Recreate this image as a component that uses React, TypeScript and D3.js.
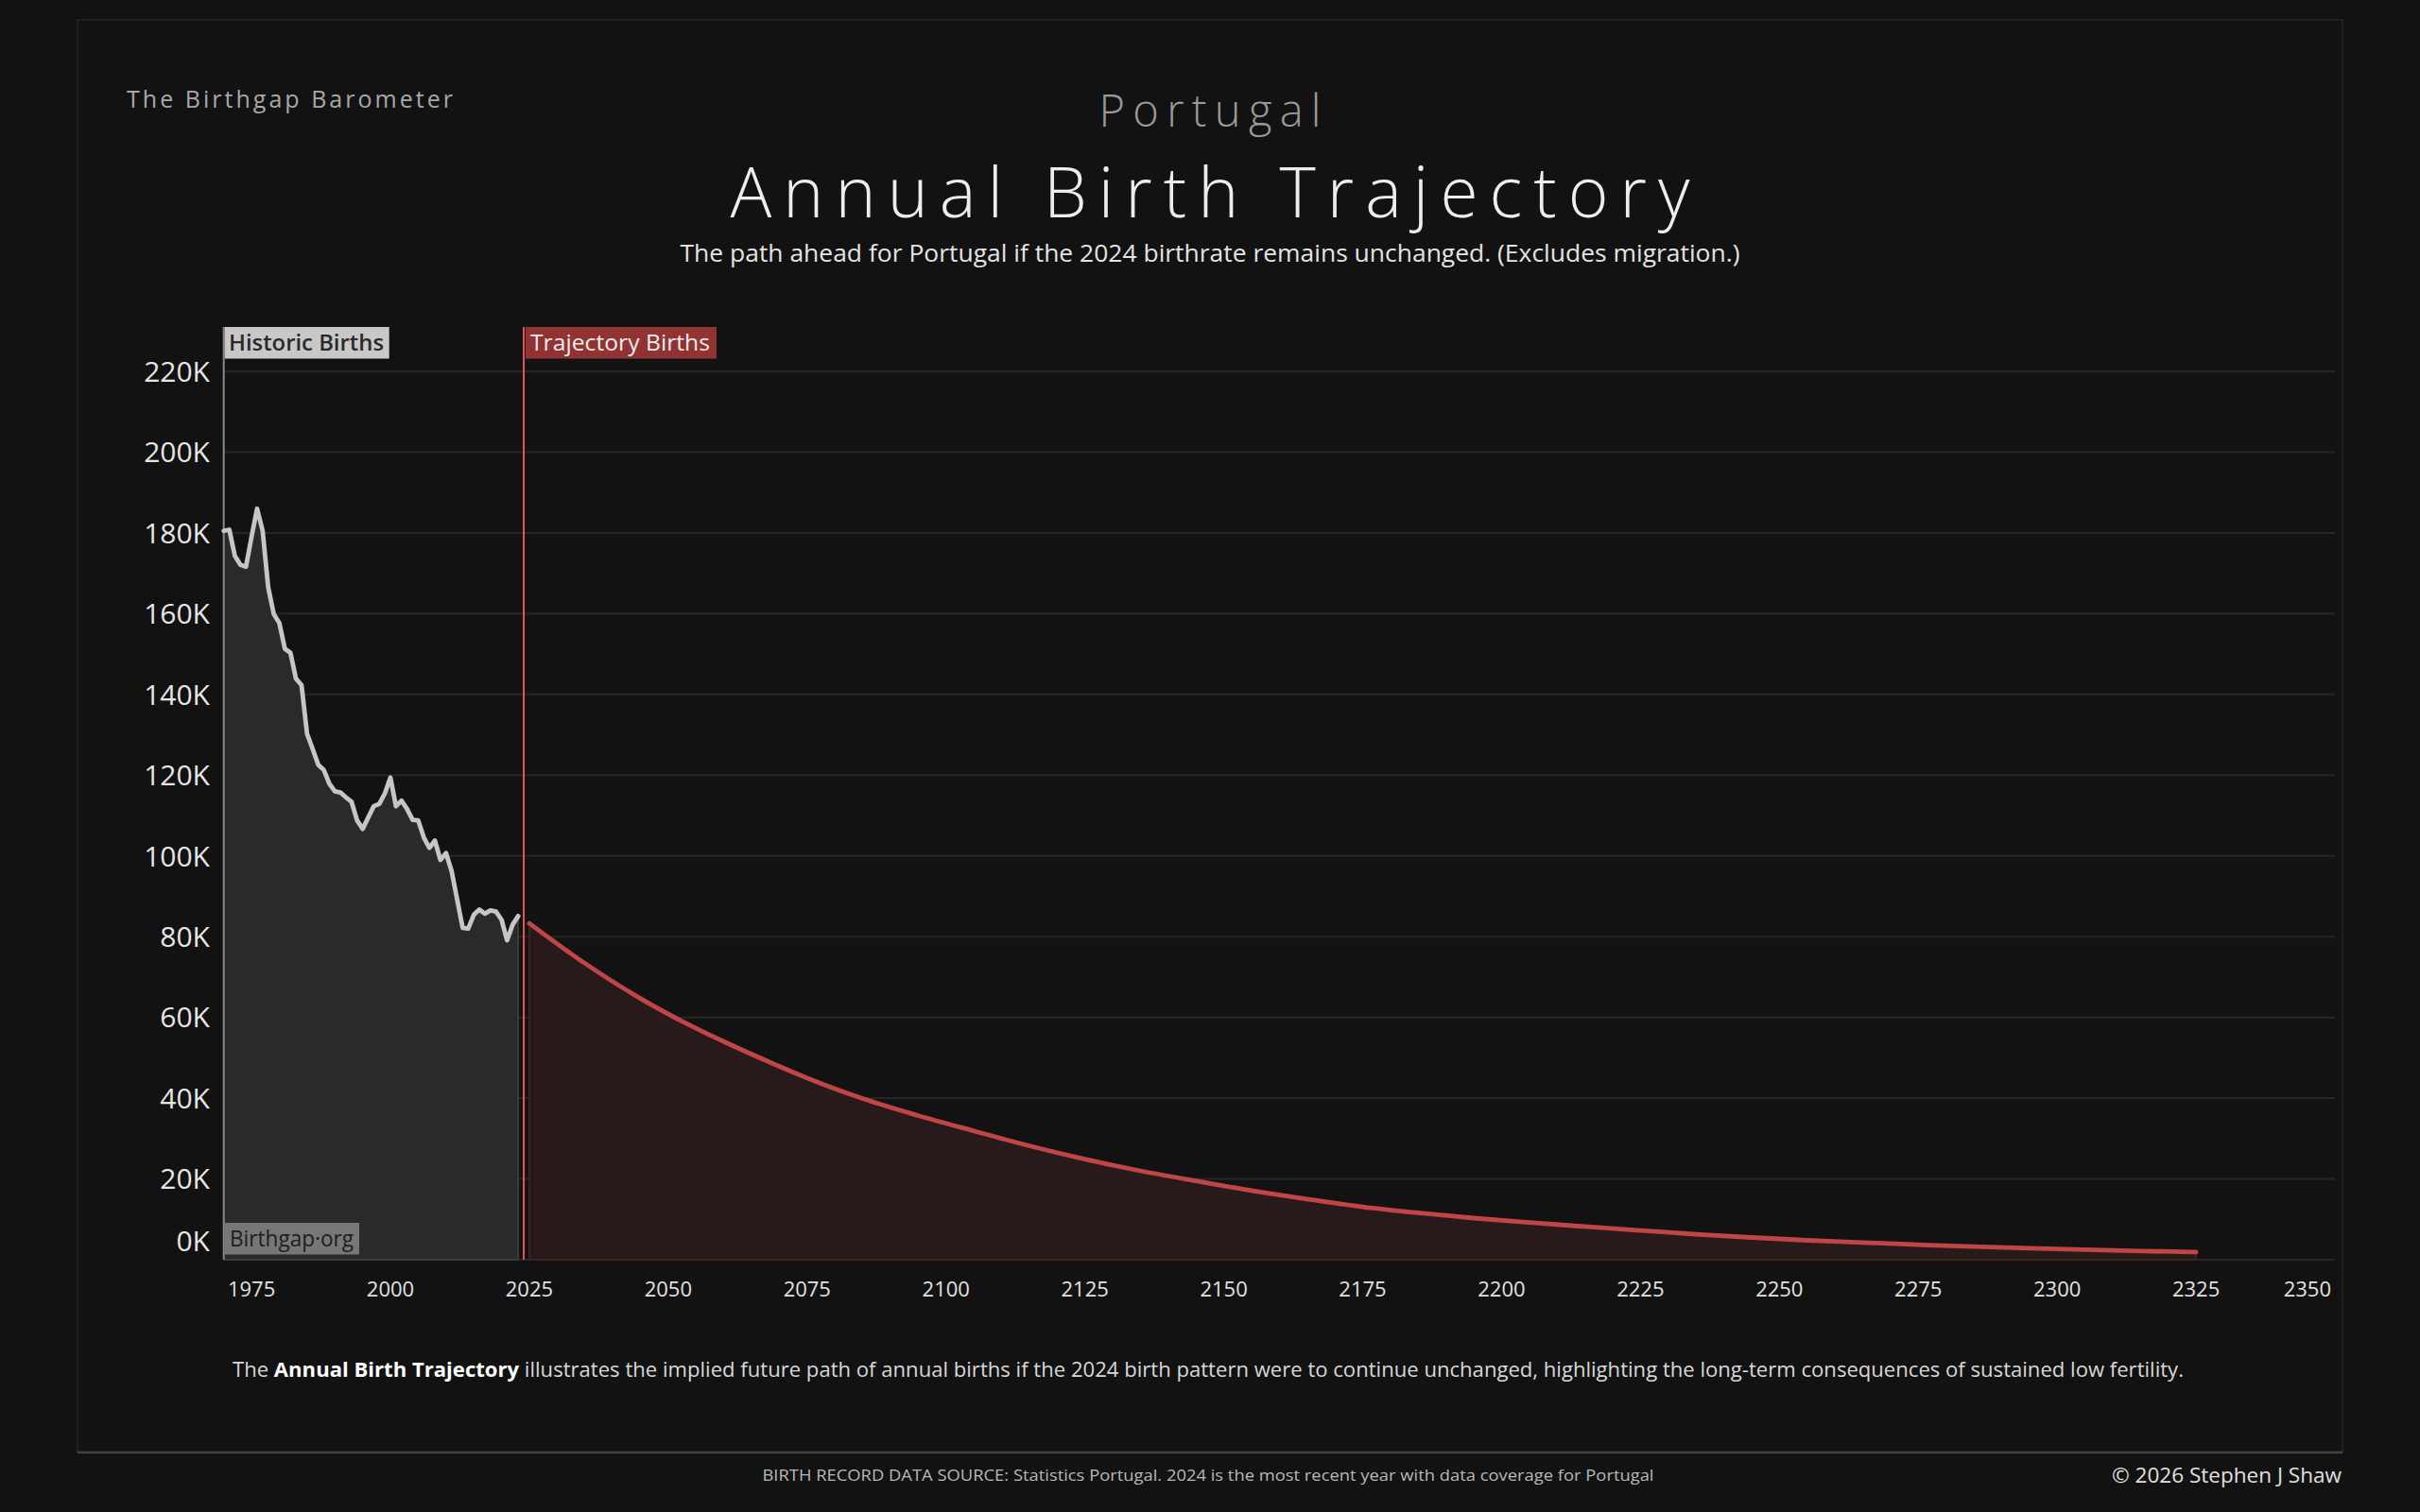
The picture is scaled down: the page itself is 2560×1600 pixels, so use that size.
import React from "react";
import * as d3 from "d3";

// ---------- DATA ----------
const historicYears = [
  1970, 1971, 1972, 1973, 1974, 1975, 1976, 1977, 1978, 1979,
  1980, 1981, 1982, 1983, 1984, 1985, 1986, 1987, 1988, 1989,
  1990, 1991, 1992, 1993, 1994, 1995, 1996, 1997, 1998, 1999,
  2000, 2001, 2002, 2003, 2004, 2005, 2006, 2007, 2008, 2009,
  2010, 2011, 2012, 2013, 2014, 2015, 2016, 2017, 2018, 2019,
  2020, 2021, 2022, 2023,
];
const historicBirths = [
  180500, 180800, 174300, 172100, 171600, 179000, 186000, 180500, 166500, 159900,
  157700, 151300, 150300, 143900, 142300, 130200, 126500, 122600, 121300, 117900,
  116000, 115700, 114500, 113400, 108800, 106700, 109500, 112300, 112900, 115500,
  119400, 112300, 113700, 111600, 108900, 108800, 104600, 102000, 103800, 99000,
  100700, 96300, 89300, 82200, 82000, 85400, 86700, 85700, 86500, 86200,
  84200, 79100, 83000, 85100,
];
const trajectoryYears = [
  2025, 2035, 2045, 2055, 2065, 2075, 2085, 2095, 2105, 2115,
  2125, 2135, 2145, 2155, 2165, 2175, 2185, 2195, 2205, 2215,
  2225, 2235, 2245, 2255, 2265, 2275, 2285, 2295, 2305, 2315, 2325,
];
const trajectoryBirths = [
  83300, 73400, 64700, 57300, 50900, 45000, 39900, 35700, 31900, 28200,
  24900, 22000, 19500, 17100, 15000, 13100, 11600, 10300, 9200, 8200,
  7250, 6300, 5500, 4800, 4250, 3700, 3250, 2850, 2470, 2150, 1900,
];
const yTicks = [0, 20000, 40000, 60000, 80000, 100000, 120000, 140000, 160000, 180000, 200000, 220000];
const xTicks = [1975, 2000, 2025, 2050, 2075, 2100, 2125, 2150, 2175, 2200, 2225, 2250, 2275, 2300, 2325, 2350];
const dividerYear = 2024;

const FONT = "'Open Sans', 'Noto Sans', 'DejaVu Sans', sans-serif";

export default function App() {
  const W = 2560;
  const H = 1600;
  const x = d3.scaleLinear().domain([1970, 2350]).range([236.7, 2470]);
  const y = d3.scaleLinear().domain([0, 220000]).range([1333, 393]);
  const plotTop = 346;

  const hist = historicYears.map((yr, i) => ({ yr, v: historicBirths[i] }));
  const traj = trajectoryYears.map((yr, i) => ({ yr, v: trajectoryBirths[i] }));

  const histLine = d3.line<any>().x((d) => x(d.yr)).y((d) => y(d.v)).curve(d3.curveLinear);
  const histArea = d3.area<any>().x((d) => x(d.yr)).y0(y(0)).y1((d) => y(d.v)).curve(d3.curveLinear);
  const trajLine = d3.line<any>().x((d) => x(d.yr)).y((d) => y(d.v)).curve(d3.curveMonotoneX);
  const trajArea = d3.area<any>().x((d) => x(d.yr)).y0(y(0)).y1((d) => y(d.v)).curve(d3.curveMonotoneX);

  const hLast = hist[hist.length - 1];
  const tFirst = traj[0];
  const tLast = traj[traj.length - 1];

  return (
    <svg
      width={W}
      height={H}
      style={{ position: "absolute", left: 0, top: 0, display: "block", background: "#121212" }}
      fontFamily={FONT}
    >
      <rect x={0} y={0} width={W} height={H} fill="#121212" />
      {/* frame */}
      <rect x={82} y={21} width={2396} height={1516} fill="none" stroke="#272727" strokeWidth={1.5} />
      <line x1={82} x2={2478} y1={1537} y2={1537} stroke="#444" strokeWidth={2.5} />

      {/* header */}
      <text x={134} y={114} fontSize={25} fill="#a8a8a8" textLength={345} lengthAdjust="spacing">
        The Birthgap Barometer
      </text>
      <text x={1280} y={134} fontSize={47} fill="#9a9a9a" textAnchor="middle" fontWeight={300} textLength={235} lengthAdjust="spacing">
        Portugal
      </text>
      <text x={1280} y={230} fontSize={73} fill="#ededed" textAnchor="middle" fontWeight={300} textLength={1015} lengthAdjust="spacing">
        Annual Birth Trajectory
      </text>
      <text x={1280} y={277} fontSize={25} fill="#e4e4e4" textAnchor="middle" textLength={1121} lengthAdjust="spacingAndGlyphs">
        The path ahead for Portugal if the 2024 birthrate remains unchanged.  (Excludes migration.)
      </text>

      {/* gridlines */}
      {yTicks.map((t) => (
        <line key={"g" + t} x1={x(1970)} x2={2470} y1={y(t)} y2={y(t)} stroke="#262626" strokeWidth={2} />
      ))}

      {/* historic area */}
      <path d={histArea(hist) || ""} fill="#2a2a2a" />
      <path
        d={`M${x(hist[0].yr)},${y(0)}H${x(hLast.yr)}V${y(hLast.v)}`}
        fill="none"
        stroke="#444"
        strokeWidth={1.5}
      />
      {/* trajectory area */}
      <path d={trajArea(traj) || ""} fill="#281a1a" />
      <path
        d={`M${x(tFirst.yr)},${y(tFirst.v)}V${y(0)}H${x(tLast.yr)}V${y(tLast.v)}`}
        fill="none"
        stroke="#432626"
        strokeWidth={1.5}
      />

      {/* vertical markers */}
      <line x1={x(1970)} x2={x(1970)} y1={plotTop} y2={y(0)} stroke="#8a8a8a" strokeWidth={2} />
      <line x1={x(dividerYear)} x2={x(dividerYear)} y1={plotTop} y2={y(0)} stroke="#e0585a" strokeWidth={2} />

      {/* lines */}
      <path d={histLine(hist) || ""} fill="none" stroke="#c6c6c6" strokeWidth={4.8} strokeLinejoin="round" strokeLinecap="round" />
      <path d={trajLine(traj) || ""} fill="none" stroke="#bf4547" strokeWidth={4.8} strokeLinejoin="round" strokeLinecap="round" />

      {/* labels in plot */}
      <rect x={237.7} y={346} width={174} height={33.5} fill="#c8c8c8" />
      <text x={242} y={371} fontSize={23} fill="#2a2a2a" textLength={164} lengthAdjust="spacingAndGlyphs" fontWeight={600}>
        Historic Births
      </text>
      <rect x={556} y={346} width={202} height={33.5} fill="#923333" />
      <text x={561} y={371} fontSize={23} fill="#ececec" textLength={190} lengthAdjust="spacingAndGlyphs">
        Trajectory Births
      </text>
      <rect x={237.7} y={1294} width={142.3} height={33.5} fill="#777777" />
      <text x={243} y={1319} fontSize={23} fill="#1e1e1e" textLength={131} lengthAdjust="spacingAndGlyphs">
        Birthgap·org
      </text>

      {/* y axis labels */}
      {yTicks.map((t) => (
        <text
          key={"yl" + t}
          x={222}
          y={t === 0 ? y(t) - 20 : y(t)}
          dy="0.36em"
          fontSize={30}
          fill="#e6e6e6"
          textAnchor="end"
        >
          {t / 1000 + "K"}
        </text>
      ))}

      {/* x axis labels */}
      {xTicks.map((t, i) => (
        <text
          key={"xl" + t}
          x={i === xTicks.length - 1 ? 2466 : x(t)}
          y={1372}
          fontSize={22}
          fill="#e2e2e2"
          textAnchor={i === xTicks.length - 1 ? "end" : "middle"}
        >
          {t}
        </text>
      ))}

      {/* caption */}
      <text x={1278} y={1457} fontSize={21} fill="#d8d8d8" textAnchor="middle" textLength={2064} lengthAdjust="spacingAndGlyphs">
        The <tspan fontWeight={700} fill="#ffffff">Annual Birth Trajectory</tspan> illustrates the implied future path of annual births if the 2024 birth pattern were to continue unchanged, highlighting the long-term consequences of sustained low fertility.
      </text>

      {/* footer */}
      <text x={1278} y={1567} fontSize={17} fill="#b8b8b8" textAnchor="middle" textLength={943} lengthAdjust="spacingAndGlyphs">
        BIRTH RECORD DATA SOURCE: Statistics Portugal. 2024 is the most recent year with data coverage for Portugal
      </text>
      <text x={2477} y={1569} fontSize={21} fill="#e0e0e0" textAnchor="end" textLength={243} lengthAdjust="spacingAndGlyphs">
        © 2026 Stephen J Shaw
      </text>
    </svg>
  );
}
